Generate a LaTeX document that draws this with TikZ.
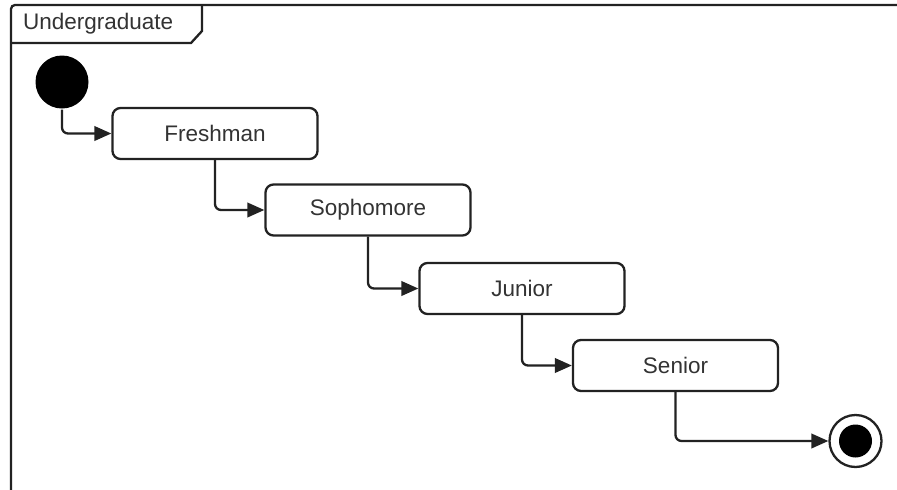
\documentclass[tikz,border=0pt]{standalone}
\usepackage{fontspec}
\setmainfont{Liberation Sans}
\usetikzlibrary{arrows.meta}
\definecolor{ink}{HTML}{222222}
\definecolor{txt}{HTML}{333333}
\begin{document}
\begin{tikzpicture}[x=1pt,y=-1pt,
  line width=2.3pt, draw=ink,
  statebox/.style={draw=ink, rounded corners=8pt, minimum width=205pt, minimum height=51pt, font=\fontsize{22.5}{26}\selectfont, text=txt, inner sep=0pt},
  conn/.style={draw=ink, rounded corners=6pt, -{Triangle[length=17pt,width=14.5pt]}},
  lbl/.style={font=\fontsize{22.5}{26}\selectfont, text=txt, anchor=west, inner sep=0pt}]
\useasboundingbox (0,0) rectangle (897,490);
\fill[white] (0,0) rectangle (897,490);
\begin{scope}
\clip (0,0) rectangle (897,490);
\draw[ink, rounded corners=4pt] (11,520) -- (11,5) -- (920,5);
\end{scope}
\draw[ink] (11,43) -- (191,43) -- (202,31) -- (202,5);
\node[lbl] (title) at (22,24) {Undergraduate};
\node[circle, fill=black, minimum size=53pt, inner sep=0pt] (init) at (62,82) {};
\node[statebox] (fresh) at (215,133.5) {Freshman};
\node[statebox] (soph) at (368,210) {Sophomore};
\node[statebox] (jun) at (522,288.5) {Junior};
\node[statebox] (sen) at (675.5,365.5) {Senior};
\node[circle, draw=ink, line width=2.3pt, minimum size=52pt, inner sep=0pt] (final) at (855.5,441) {};
\node[circle, fill=black, minimum size=33pt, inner sep=0pt] (finalin) at (final.center) {};
\draw[conn] (init.south) |- (fresh.west);
\draw[conn] (fresh.south) |- (soph.west);
\draw[conn] (soph.south) |- (jun.west);
\draw[conn] (jun.south) |- (sen.west);
\draw[conn] (sen.south) |- (final.west);
\end{tikzpicture}
\end{document}
